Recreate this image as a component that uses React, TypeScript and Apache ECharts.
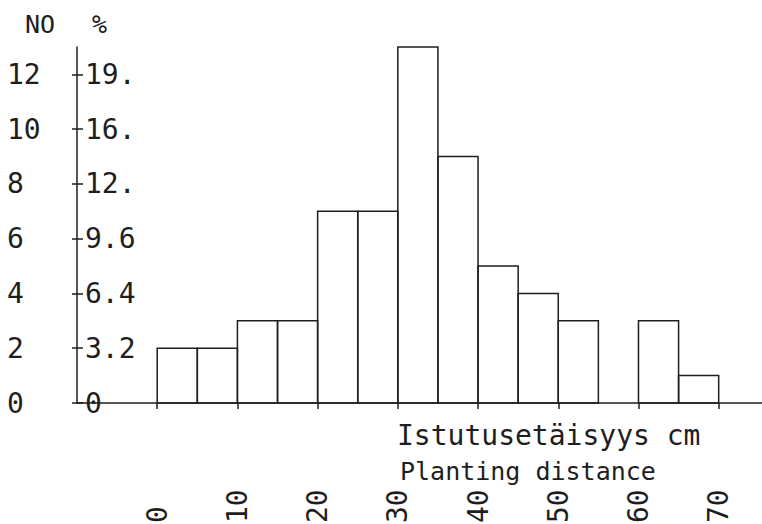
import React, { useEffect, useRef } from 'react';
import * as echarts from 'echarts';

// Histogram data: bin start (cm), bin width, counts (NO)
const binStarts = [0, 5, 10, 15, 20, 25, 30, 35, 40, 45, 50, 55, 60, 65];
const binWidth = 5;
const counts = [2, 2, 3, 3, 7, 7, 13, 9, 5, 4, 3, 0, 3, 1];

// Axis ticks and labels
const yTickValues = [0, 2, 4, 6, 8, 10, 12];
const countLabels = ['0', '2', '4', '6', '8', '10', '12'];
const percentLabels = ['0', '3.2', '6.4', '9.6', '12.', '16.', '19.'];
const xTickValues = [0, 10, 20, 30, 40, 50, 60, 70];
const xTickLabels = ['0', '10', '20', '30', '40', '50', '60', '70'];

const axisTitleFi = 'Istutusetäisyys cm';
const axisTitleEn = 'Planting distance';

const INK = '#1e1e1e';
const FONT = "'DejaVu Sans Mono', monospace";

export default function App() {
  const ref = useRef<HTMLDivElement>(null);

  useEffect(() => {
    if (!ref.current) return;
    const chart = echarts.init(ref.current, undefined, { renderer: 'svg' });
    const lineStyle = { color: INK, width: 1.5 };

    chart.setOption({
      animation: false,
      backgroundColor: '#ffffff',
      grid: {
        left: 77,
        right: 0,
        top: 47,
        bottom: 121,
        outerBoundsMode: 'none',
        containLabel: false,
      },
      xAxis: {
        type: 'value',
        min: -10,
        max: 75.4,
        splitLine: { show: false },
        axisLine: { show: true, onZero: false, lineStyle },
        axisTick: { show: true, customValues: xTickValues, length: 6, lineStyle },
        axisLabel: {
          customValues: xTickValues,
          formatter: (v: number) => {
            const i = xTickValues.indexOf(v);
            return i >= 0 ? xTickLabels[i] : '';
          },
          rotate: 90,
          align: 'left',
          verticalAlign: 'middle',
          margin: 120,
          fontSize: 28,
          fontFamily: FONT,
          color: INK,
        },
      },
      yAxis: [
        {
          type: 'value',
          position: 'left',
          min: 0,
          max: 13,
          name: 'NO',
          nameLocation: 'end',
          nameGap: 23,
          nameTextStyle: {
            fontSize: 25,
            fontFamily: FONT,
            color: INK,
            align: 'right',
            verticalAlign: 'middle',
            padding: [0, 22, 0, 0],
          },
          splitLine: { show: false },
          axisLine: { show: true, onZero: false, lineStyle },
          axisTick: { show: true, customValues: yTickValues, length: 5, lineStyle },
          axisLabel: {
            customValues: yTickValues,
            formatter: (v: number) => {
              const i = yTickValues.indexOf(v);
              return i >= 0 ? countLabels[i] : '';
            },
            align: 'left',
            verticalAlign: 'middle',
            margin: 70,
            fontSize: 28,
            fontFamily: FONT,
            color: INK,
          },
        },
        {
          type: 'value',
          position: 'left',
          offset: 0,
          min: 0,
          max: 13,
          name: '%',
          nameLocation: 'end',
          nameGap: 23,
          nameTextStyle: {
            fontSize: 25,
            fontFamily: FONT,
            color: INK,
            align: 'left',
            verticalAlign: 'middle',
            padding: [0, 0, 0, 15],
          },
          splitLine: { show: false },
          axisLine: { show: false, onZero: false },
          axisTick: { show: true, inside: true, customValues: yTickValues, length: 6, lineStyle },
          axisLabel: {
            inside: true,
            customValues: yTickValues,
            formatter: (v: number) => {
              const i = yTickValues.indexOf(v);
              return i >= 0 ? percentLabels[i] : '';
            },
            align: 'left',
            verticalAlign: 'middle',
            margin: 8,
            fontSize: 28,
            fontFamily: FONT,
            color: INK,
          },
        },
      ],
      graphic: [
        {
          type: 'text',
          x: 397,
          y: 435,
          style: {
            text: axisTitleFi,
            fontSize: 28,
            fontFamily: FONT,
            fill: INK,
            verticalAlign: 'middle',
          },
        },
        {
          type: 'text',
          x: 400,
          y: 471,
          style: {
            text: axisTitleEn,
            fontSize: 25,
            fontFamily: FONT,
            fill: INK,
            verticalAlign: 'middle',
          },
        },
      ],
      series: [
        {
          type: 'custom',
          xAxisIndex: 0,
          yAxisIndex: 0,
          data: binStarts.map((s, i) => [s, counts[i]]),
          encode: { x: 0, y: 1 },
          renderItem: (params: any, api: any) => {
            const start = api.value(0);
            const h = api.value(1);
            if (!h) return null;
            const p0 = api.coord([start, 0]);
            const p1 = api.coord([start + binWidth, h]);
            return {
              type: 'rect',
              shape: {
                x: p0[0],
                y: p1[1],
                width: p1[0] - p0[0],
                height: p0[1] - p1[1],
              },
              style: { fill: 'none', stroke: INK, lineWidth: 1.5 },
            };
          },
        },
      ],
    });

    return () => chart.dispose();
  }, []);

  return (
    <div
      ref={ref}
      style={{ position: 'fixed', left: 0, top: 0, width: 762, height: 524, background: '#fff' }}
    />
  );
}
